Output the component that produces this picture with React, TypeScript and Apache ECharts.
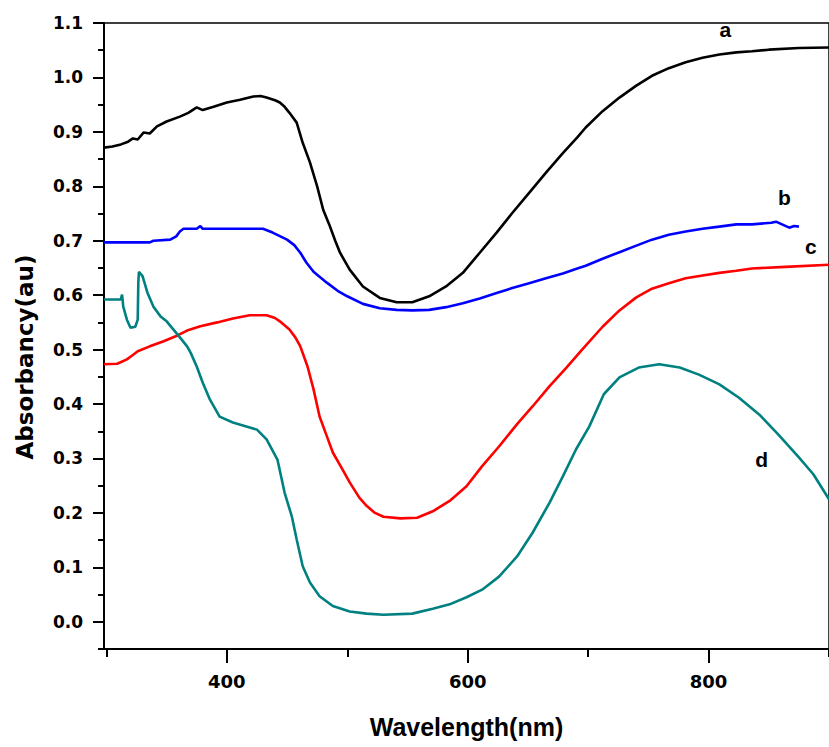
import React, { useEffect, useRef } from "react";
import * as echarts from "echarts";

const xMajorTicks = [400, 600, 800];
const xMinorTicks = [300, 500, 700, 900];
const yMajorTicks = [0, 0.1, 0.2, 0.3, 0.4, 0.5, 0.6, 0.7, 0.8, 0.9, 1.0, 1.1];
const yMinorTicks = [-0.05, 0.05, 0.15, 0.25, 0.35, 0.45, 0.55, 0.65, 0.75, 0.85, 0.95, 1.05];

const curveA: [number, number][] = [
  [298, 0.871], [305, 0.873], [312, 0.877], [318, 0.882], [322, 0.888], [326, 0.886], [331, 0.899],
  [336, 0.897], [342, 0.910], [350, 0.919], [361, 0.928], [368, 0.935], [375, 0.945], [380, 0.940],
  [389, 0.946], [400, 0.954], [411, 0.959], [422, 0.965], [428, 0.966], [433, 0.963], [440, 0.958],
  [444, 0.954], [448, 0.946], [452, 0.935], [458, 0.917], [463, 0.880], [469, 0.844], [475, 0.800],
  [480, 0.757], [485, 0.730], [490, 0.700], [494, 0.678], [502, 0.647], [513, 0.616], [527, 0.595],
  [541, 0.587], [554, 0.587], [568, 0.598], [582, 0.616], [596, 0.641], [610, 0.678], [624, 0.715],
  [637, 0.751], [651, 0.788], [665, 0.825], [679, 0.861], [691, 0.890], [698, 0.908], [712, 0.938],
  [726, 0.963], [740, 0.985], [753, 1.003], [767, 1.017], [781, 1.028], [795, 1.036], [809, 1.042],
  [823, 1.046], [836, 1.048], [850, 1.051], [875, 1.054], [900, 1.055],
];

const curveB: [number, number][] = [
  [298, 0.697], [336, 0.697], [339, 0.700], [353, 0.702], [358, 0.708], [361, 0.717], [364, 0.722],
  [375, 0.722], [378, 0.727], [380, 0.722], [430, 0.722], [438, 0.715], [450, 0.702], [456, 0.692],
  [461, 0.678], [466, 0.660], [472, 0.643], [478, 0.632], [483, 0.623], [492, 0.608], [500, 0.598],
  [513, 0.584], [527, 0.576], [541, 0.573], [554, 0.572], [568, 0.573], [582, 0.578], [596, 0.585],
  [610, 0.594], [624, 0.604], [637, 0.613], [651, 0.622], [665, 0.631], [679, 0.640], [691, 0.649],
  [698, 0.654], [712, 0.667], [726, 0.679], [740, 0.691], [753, 0.702], [767, 0.711], [781, 0.717],
  [795, 0.722], [809, 0.726], [823, 0.730], [836, 0.730], [852, 0.733], [856, 0.735], [861, 0.730],
  [867, 0.724], [871, 0.727], [875, 0.726],
];

const curveC: [number, number][] = [
  [298, 0.473], [309, 0.474], [317, 0.482], [322, 0.490], [326, 0.497], [336, 0.506], [347, 0.515],
  [359, 0.526], [367, 0.535], [378, 0.543], [392, 0.550], [405, 0.557], [419, 0.563], [433, 0.563],
  [440, 0.558], [444, 0.552], [452, 0.537], [457, 0.522], [461, 0.506], [467, 0.469], [472, 0.427],
  [477, 0.377], [483, 0.341], [488, 0.311], [496, 0.280], [502, 0.256], [510, 0.228], [516, 0.213],
  [523, 0.200], [530, 0.193], [544, 0.190], [558, 0.191], [571, 0.203], [585, 0.222], [599, 0.249],
  [612, 0.286], [626, 0.322], [641, 0.363], [654, 0.396], [668, 0.433], [682, 0.467], [695, 0.500],
  [712, 0.542], [726, 0.572], [740, 0.596], [753, 0.612], [767, 0.622], [781, 0.631], [795, 0.636],
  [809, 0.641], [823, 0.645], [836, 0.649], [864, 0.652], [900, 0.656],
];

const curveD: [number, number][] = [
  [298, 0.592], [312, 0.592], [313, 0.601], [314, 0.579], [317, 0.555], [320, 0.540], [324, 0.542],
  [326, 0.555], [326.5, 0.623], [327, 0.643], [330, 0.635], [334, 0.605], [339, 0.579], [345, 0.561],
  [350, 0.552], [359, 0.528], [367, 0.506], [370, 0.494], [375, 0.469], [380, 0.439], [386, 0.408],
  [394, 0.377], [405, 0.366], [419, 0.357], [425, 0.353], [433, 0.335], [442, 0.298], [448, 0.237],
  [454, 0.193], [458, 0.151], [463, 0.102], [469, 0.072], [477, 0.047], [488, 0.029], [502, 0.019],
  [516, 0.015], [530, 0.013], [554, 0.015], [571, 0.024], [585, 0.032], [599, 0.045], [612, 0.059],
  [626, 0.083], [641, 0.120], [654, 0.164], [668, 0.219], [679, 0.267], [690, 0.317], [701, 0.359],
  [713, 0.418], [726, 0.449], [742, 0.467], [759, 0.473], [776, 0.467], [792, 0.454], [809, 0.436],
  [825, 0.412], [842, 0.381], [858, 0.344], [875, 0.302], [887, 0.271], [900, 0.225],
];

const seriesNames = ["a", "b", "c", "d"];
const seriesColors = ["#000000", "#0000ff", "#ff0000", "#008080"];
const labelPositions: [number, number][] = [
  [814, 1.088],
  [863, 0.779],
  [885, 0.689],
  [844, 0.298],
];

const X_MIN = 298;
const X_MAX = 900;
const Y_MIN = -0.05;
const Y_MAX = 1.1;

export default function App() {
  const ref = useRef<HTMLDivElement>(null);
  useEffect(() => {
    if (!ref.current) return;
    const chart = echarts.init(ref.current, null, { renderer: "svg" });
    const curves = [curveA, curveB, curveC, curveD];
    const font = "'Liberation Sans', Arial, sans-serif";
    const tickFont = "'DejaVu Sans', sans-serif";
    const baseX = {
      type: "value",
      min: X_MIN,
      max: X_MAX,
      gridIndex: 0,
      splitLine: { show: false },
    };
    const baseY = {
      type: "value",
      min: Y_MIN,
      max: Y_MAX,
      gridIndex: 0,
      splitLine: { show: false },
    };
    chart.setOption({
      animation: false,
      backgroundColor: "#ffffff",
      grid: {
        left: 104,
        top: 23,
        right: -2,
        bottom: 98,
        show: true,
        borderColor: "#000",
        borderWidth: 1.5,
        backgroundColor: "transparent",
      },
      xAxis: [
        {
          ...baseX,
          position: "bottom",
          name: "Wavelength(nm)",
          nameLocation: "middle",
          nameGap: 65,
          nameTextStyle: { fontFamily: font, fontWeight: "bold", fontSize: 25, color: "#000" },
          axisLine: { show: true, onZero: false, lineStyle: { color: "#000", width: 2 } },
          axisTick: { show: true, customValues: xMajorTicks, length: 14, lineStyle: { color: "#000", width: 2 } },
          axisLabel: {
            show: true,
            customValues: xMajorTicks,
            margin: 23,
            fontFamily: tickFont,
            fontWeight: "bold",
            fontSize: 18,
            color: "#000",
          },
        },
        {
          ...baseX,
          position: "bottom",
          axisLine: { show: false, onZero: false },
          axisTick: { show: true, customValues: xMinorTicks, length: 8, lineStyle: { color: "#000", width: 2 } },
          axisLabel: { show: false },
        },
      ],
      yAxis: [
        {
          ...baseY,
          position: "left",
          axisLine: { show: true, onZero: false, lineStyle: { color: "#000", width: 2 } },
          axisTick: { show: true, customValues: yMajorTicks, length: 11, lineStyle: { color: "#000", width: 2 } },
          axisLabel: {
            show: true,
            customValues: yMajorTicks,
            margin: 21,
            fontFamily: tickFont,
            fontWeight: "bold",
            fontSize: 17,
            color: "#000",
            formatter: (v: number) => v.toFixed(1),
          },
        },
        {
          ...baseY,
          position: "left",
          axisLine: { show: false, onZero: false },
          axisTick: { show: true, customValues: yMinorTicks, length: 6, lineStyle: { color: "#000", width: 2 } },
          axisLabel: { show: false },
        },
      ],
      graphic: [
        {
          type: "text",
          x: 25,
          y: 357,
          rotation: Math.PI / 2,
          style: {
            text: "Absorbancy(au)",
            fontFamily: tickFont,
            fontWeight: "bold",
            fontSize: 23,
            fill: "#000",
            align: "center",
            verticalAlign: "middle",
          },
        },
      ],
      series: curves.map((data, i) => ({
        name: seriesNames[i],
        type: "line",
        xAxisIndex: 0,
        yAxisIndex: 0,
        data,
        showSymbol: false,
        symbol: "none",
        clip: true,
        lineStyle: { color: seriesColors[i], width: 2.6 },
        markPoint: {
          symbol: "circle",
          symbolSize: 1,
          itemStyle: { color: "transparent" },
          label: {
            show: true,
            position: "inside",
            formatter: seriesNames[i],
            fontFamily: font,
            fontWeight: "bold",
            fontSize: 21,
            color: "#000",
          },
          data: [{ coord: labelPositions[i] }],
        },
      })),
    });
    return () => chart.dispose();
  }, []);
  return (
    <div
      ref={ref}
      style={{ position: "fixed", left: 0, top: 0, width: 829, height: 747, background: "#fff" }}
    />
  );
}
